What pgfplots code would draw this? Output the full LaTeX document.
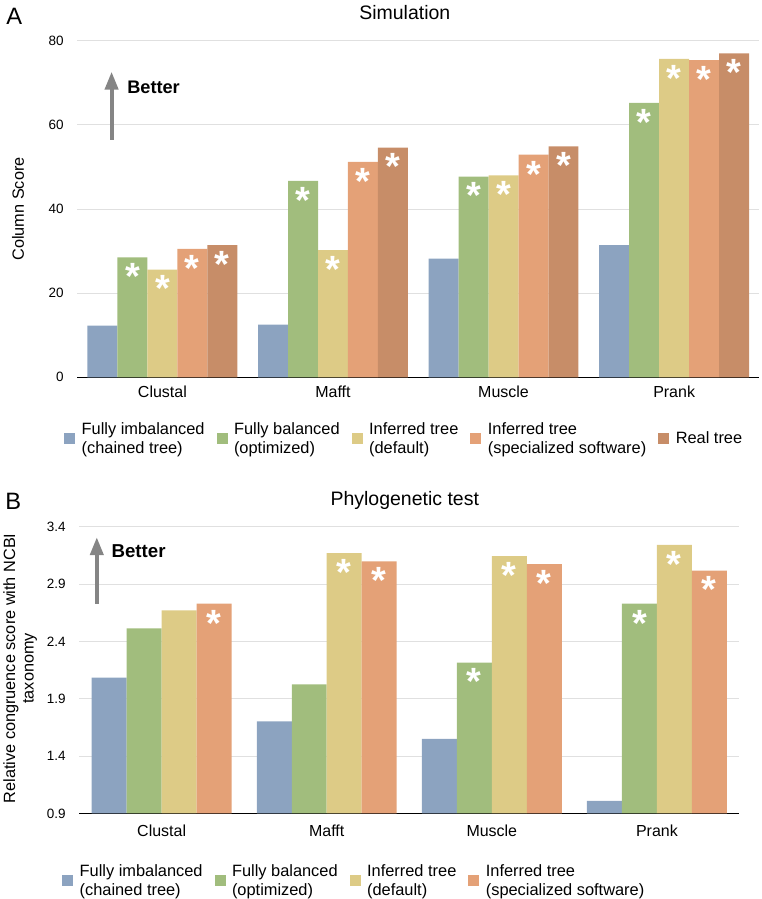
\documentclass[border=0pt]{standalone}
\usepackage{fontspec}
\setmainfont{Liberation Sans}
\usepackage{pgfplots}
\pgfplotsset{compat=1.18}
\usetikzlibrary{arrows.meta}

\definecolor{cBlue}{HTML}{8CA3C0}
\definecolor{cGreen}{HTML}{A1BD7D}
\definecolor{cYellow}{HTML}{DDCB86}
\definecolor{cOrange}{HTML}{E4A177}
\definecolor{cBrown}{HTML}{C78D68}
\definecolor{cArrow}{HTML}{858585}

\pgfplotsset{
  panel/.style={
    scale only axis,
    ybar=0pt,
    enlargelimits=false,
    xmin=-0.5, xmax=3.5,
    xtick={0,1,2,3},
    xticklabels={Clustal,Mafft,Muscle,Prank},
    major tick length=0pt,
    axis x line*=bottom,
    axis y line*=left,
    x axis line style={-,black,line width=1.2pt},
    y axis line style={draw=none},
    ymajorgrids,
    grid style={draw=black!12, line width=0.8pt},
    yticklabel style={font=\fontsize{13.5}{16}\selectfont, xshift=-10pt},
    xticklabel style={font=\fontsize{16}{19}\selectfont},
    /pgf/number format/assume math mode=true,
    ylabel style={font=\fontsize{16.3}{18.5}\selectfont, anchor=center},
    point meta=explicit symbolic,
    nodes near coords,
    nodes near coords style={anchor=north, text=white, inner sep=0pt,
      yshift=-6pt, font=\fontsize{38}{38}\selectfont\bfseries},
    every axis plot/.append style={draw=none},
    every axis plot post/.append style={
      legend image code/.code={\fill[##1] (0pt,-5.5pt) rectangle (11pt,5.5pt);}},
    legend columns=-1,
    legend style={draw=none, fill=none, anchor=west, inner sep=0pt, outer sep=0pt,
      font=\fontsize{16.4}{19}\selectfont,
      cells={anchor=west, align=left, inner sep=0pt},
      /tikz/column sep=4.5pt,
      /tikz/every even column/.append style={column sep=10pt}},
  }
}

\begin{document}
\begin{tikzpicture}
\path (0pt,0pt) rectangle (760pt,-899pt);

% ---- A: Simulation
\begin{axis}[panel,
  at={(75pt,-377.7pt)}, anchor=south west,
  width=683pt, height=337pt,
  bar width=30pt,
  ymin=0, ymax=80, ytick={0,20,40,60,80},
  ylabel={Column Score},
  ylabel style={at={(axis description cs:-0.0864,0.5)}},
  xticklabel style={yshift=-5pt},
  legend style={at={(axis description cs:-0.019,-0.182)}},
]
\addplot[fill=cBlue] coordinates {(0,12.3) [] (1,12.5) [] (2,28.2) [] (3,31.4) []};
\addplot[fill=cGreen] coordinates {(0,28.5) [*] (1,46.7) [*] (2,47.7) [*] (3,65.2) [*]};
\addplot[fill=cYellow] coordinates {(0,25.6) [*] (1,30.2) [*] (2,48.0) [*] (3,75.7) [*]};
\addplot[fill=cOrange] coordinates {(0,30.5) [*] (1,51.2) [*] (2,52.9) [*] (3,75.4) [*]};
\addplot[fill=cBrown] coordinates {(0,31.4) [*] (1,54.6) [*] (2,54.9) [*] (3,77.0) [*]};
\legend{Fully imbalanced\\(chained tree), Fully balanced\\(optimized),
  Inferred tree\\(default), Inferred tree\\(specialized software), Real tree}
\end{axis}

% ---- B: Phylogenetic test
\begin{axis}[panel,
  at={(77pt,-814.3pt)}, anchor=south west,
  width=661pt, height=287pt,
  bar width=35pt,
  ymin=0.9, ymax=3.4, ytick={0.9,1.4,1.9,2.4,2.9,3.4},
  yticklabel style={/pgf/number format/.cd, fixed, fixed zerofill, precision=1},
  ylabel={Relative congruence score with NCBI\\taxonomy},
  ylabel style={align=center, at={(axis description cs:-0.0893,0.506)}},
  xticklabel style={yshift=-8pt},
  legend style={at={(axis description cs:-0.0257,-0.235)}},
]
\addplot[fill=cBlue] coordinates {(0,2.085) [] (1,1.704) [] (2,1.550) [] (3,1.010) []};
\addplot[fill=cGreen] coordinates {(0,2.514) [] (1,2.026) [] (2,2.215) [*] (3,2.729) [*]};
\addplot[fill=cYellow] coordinates {(0,2.671) [] (1,3.170) [*] (2,3.144) [*] (3,3.243) [*]};
\addplot[fill=cOrange] coordinates {(0,2.729) [*] (1,3.098) [*] (2,3.074) [*] (3,3.017) [*]};
\legend{Fully imbalanced\\(chained tree), Fully balanced\\(optimized),
  Inferred tree\\(default), Inferred tree\\(specialized software)}
\end{axis}

% panel letters, titles, "Better" arrows
\node[anchor=base west, inner sep=0pt, font=\fontsize{23.7}{26}\selectfont] at (4pt,-25pt) {A};
\node[anchor=base west, inner sep=0pt, font=\fontsize{23.7}{26}\selectfont] at (3pt,-510pt) {B};
\node[anchor=base, inner sep=0pt, font=\fontsize{19.5}{22}\selectfont] at (403pt,-20pt) {Simulation};
\node[anchor=base, inner sep=0pt, font=\fontsize{19.5}{22}\selectfont] at (403pt,-506pt) {Phylogenetic test};

\draw[cArrow, line width=4pt, -{Triangle[width=13pt,length=18pt]}] (109.5pt,-140pt) -- (109.5pt,-71.7pt);
\node[anchor=base west, inner sep=0pt, font=\fontsize{18.2}{20}\selectfont\bfseries] at (125pt,-93.3pt) {Better};
\draw[cArrow, line width=4pt, -{Triangle[width=13pt,length=18pt]}] (94.7pt,-604.3pt) -- (94.7pt,-537.7pt);
\node[anchor=base west, inner sep=0pt, font=\fontsize{18.7}{20}\selectfont\bfseries] at (109.3pt,-558.3pt) {Better};
\end{tikzpicture}
\end{document}
